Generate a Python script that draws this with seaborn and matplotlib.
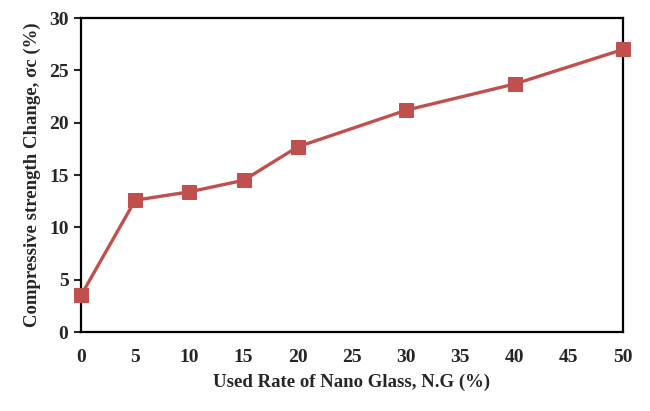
import matplotlib
matplotlib.use("Agg")
import matplotlib.pyplot as plt
import seaborn as sns
import pandas as pd

# values
nano_glass = [0, 5, 10, 15, 20, 30, 40, 50]
strength_change = [3.5, 12.6, 13.4, 14.5, 17.7, 21.2, 23.7, 27.0]
x_ticks = list(range(0, 55, 5))
y_ticks = list(range(0, 35, 5))

df = pd.DataFrame({'ng': nano_glass, 'sc': strength_change})

sns.set_style('white')
plt.rcParams['font.family'] = ['Liberation Serif', 'DejaVu Serif']
plt.rcParams['font.weight'] = 'bold'

fig = plt.figure(figsize=(6.5, 4.11), dpi=100)
ax = fig.add_axes([0.1246, 0.192, 0.8338, 0.764])

sns.lineplot(data=df, x='ng', y='sc', ax=ax, color='#C0504D',
             linewidth=2.4, marker='s', markersize=9.5,
             markeredgecolor='#C0504D', clip_on=False, zorder=5)

ax.set_xlim(0, 50)
ax.set_ylim(0, 30)
ax.set_xticks(x_ticks)
ax.set_yticks(y_ticks)
ax.tick_params(axis='x', direction='in', length=5, width=1.5,
               labelsize=14, pad=12)
ax.tick_params(axis='y', direction='out', length=5, width=1.5,
               labelsize=14, pad=4, left=True)
for lab in ax.get_xticklabels() + ax.get_yticklabels():
    lab.set_fontweight('bold')
for sp in ax.spines.values():
    sp.set_visible(True)
    sp.set_color('black')
    sp.set_linewidth(1.6)

ax.set_xlabel('Used Rate of Nano Glass, N.G (%)', fontsize=13.5,
              fontweight='bold', labelpad=6)
ax.set_ylabel('Compressive strength Change, σc (%)', fontsize=13.5,
              fontweight='bold', labelpad=6)

fig.savefig('out.png', dpi=100)
